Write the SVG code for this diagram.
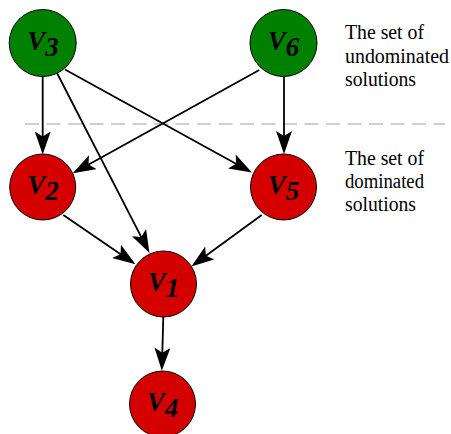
<svg xmlns="http://www.w3.org/2000/svg" width="451" height="434" viewBox="0 0 451 434">
<style>
.node circle{stroke:#000;stroke-width:1}
.green circle{fill:#008000}
.red circle{fill:#d40000}
.lbl{font-family:"Liberation Serif","Times New Roman",serif;font-weight:bold;font-style:italic;font-size:27px;fill:#000;text-anchor:middle}
.edge{stroke:#000;stroke-width:1.8;fill:none;marker-end:url(#arr)}
</style>
<defs>
<marker id="arr" viewBox="0 0 23 16" refX="13" refY="8" markerWidth="23" markerHeight="16" markerUnits="userSpaceOnUse" orient="auto">
<path d="M0,0 L23,8 L0,16 L5,8 Z" fill="#000"/>
</marker>
</defs>
<rect width="451" height="434" fill="#fff"/>
<line x1="25" y1="124" x2="445" y2="124" stroke="#c0c0c0" stroke-width="1.6" stroke-dasharray="14 7.5"/>
<g id="connectors">
<path class="edge" d="M42.7,76.5 L42.7,144.5"/>
<path class="edge" d="M57,73 L144.9,244.1"/>
<path class="edge" d="M65,69.5 L243.2,167.7"/>
<path class="edge" d="M259.3,70 L81.5,168.5"/>
<path class="edge" d="M284,77 L284,144"/>
<path class="edge" d="M63.3,215 L127.2,258.7"/>
<path class="edge" d="M261.7,215 L199.4,260.6"/>
<path class="edge" d="M163.3,317 L162.1,360.7"/>
</g>
<g id="V3" class="node green"><circle cx="42.7" cy="43" r="33.5"/><text class="lbl" x="43" y="50">V<tspan dy="6">3</tspan></text></g>
<g id="V6" class="node green"><circle cx="283.5" cy="43" r="33.5"/><text class="lbl" x="283.5" y="50">V<tspan dy="6">6</tspan></text></g>
<g id="V2" class="node red"><circle cx="42.7" cy="187" r="33"/><text class="lbl" x="43" y="194">V<tspan dy="6">2</tspan></text></g>
<g id="V5" class="node red"><circle cx="283.5" cy="187" r="33"/><text class="lbl" x="283.5" y="194">V<tspan dy="6">5</tspan></text></g>
<g id="V1" class="node red"><circle cx="163.5" cy="284" r="33"/><text class="lbl" x="163.5" y="291">V<tspan dy="6">1</tspan></text></g>
<g id="V4" class="node red"><circle cx="162.5" cy="404" r="33"/><text class="lbl" x="162.5" y="411">V<tspan dy="6">4</tspan></text></g>
<g id="legend" font-family="Liberation Serif, Times New Roman, serif" font-size="20" fill="#000">
<text x="345" y="39.3" textLength="79" lengthAdjust="spacingAndGlyphs">The set of</text>
<text x="345" y="63.3" textLength="104" lengthAdjust="spacingAndGlyphs">undominated</text>
<text x="345" y="86" textLength="71" lengthAdjust="spacingAndGlyphs">solutions</text>
<text x="345" y="164.5" textLength="79" lengthAdjust="spacingAndGlyphs">The set of</text>
<text x="345" y="188.3" textLength="79" lengthAdjust="spacingAndGlyphs">dominated</text>
<text x="345" y="211" textLength="71" lengthAdjust="spacingAndGlyphs">solutions</text>
</g>
</svg>
